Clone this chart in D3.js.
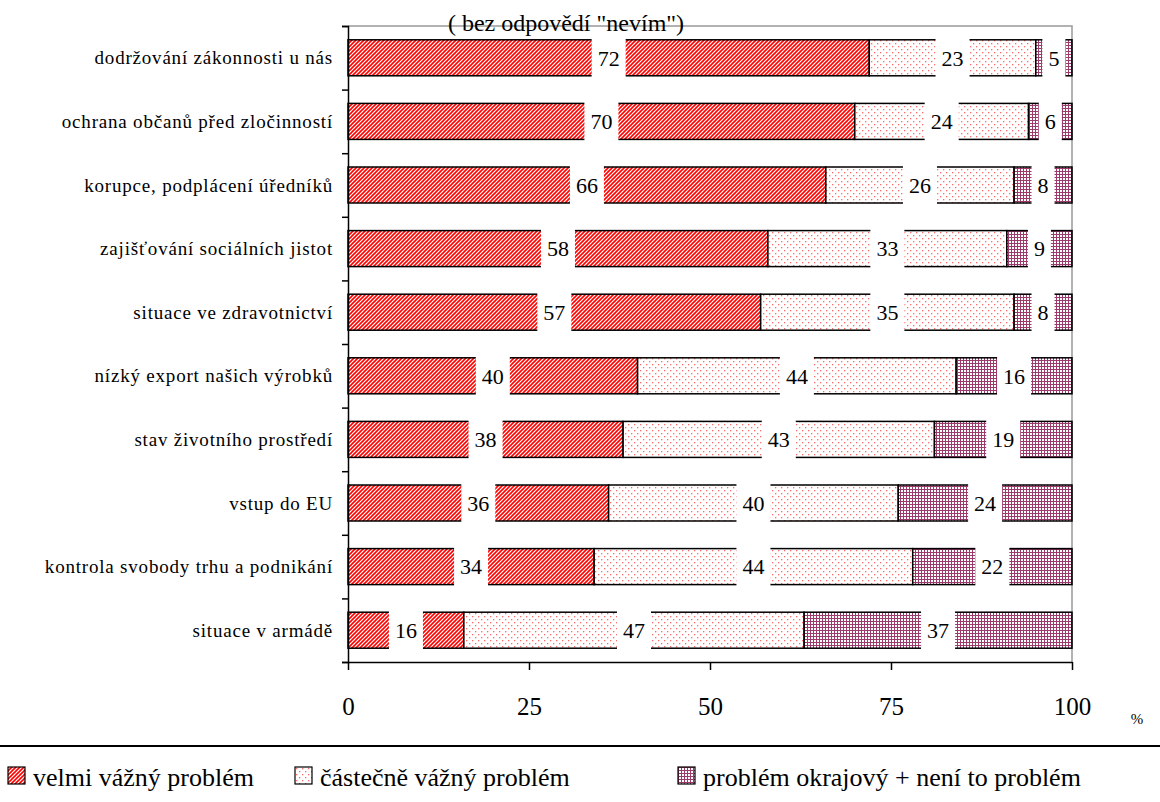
<!DOCTYPE html>
<html>
<head>
<meta charset="utf-8">
<script src="https://cdn.jsdelivr.net/npm/d3@7"></script>
</head>
<body style="margin:0;background:#fff">
<script>
const categories = [
  "dodržování zákonnosti u nás",
  "ochrana občanů před zločinností",
  "korupce, podplácení úředníků",
  "zajišťování sociálních jistot",
  "situace ve zdravotnictví",
  "nízký export našich výrobků",
  "stav životního prostředí",
  "vstup do EU",
  "kontrola svobody trhu a podnikání",
  "situace v armádě"
];
const seriesNames = ["velmi vážný problém", "částečně vážný problém", "problém okrajový + není to problém"];
const verySerious = [72, 70, 66, 58, 57, 40, 38, 36, 34, 16];
const partlySerious = [23, 24, 26, 33, 35, 44, 43, 40, 44, 47];
const marginal = [5, 6, 8, 9, 8, 16, 19, 24, 22, 37];
const xTicks = [0, 25, 50, 75, 100];
const subtitle = '( bez odpovědí "nevím")';

const width = 1160, height = 802;
const plot = { left: 348, right: 1072, top: 26, bottom: 662 };
const font = '"Liberation Serif"';
const K = 2; // text drawn at K x size, then scaled down

const svg = d3.select("body").append("svg")
  .attr("width", width)
  .attr("height", height);

// text helper: big font, scaled down
function label(parent, x, y, size, str, anchor) {
  return parent.append("text")
    .attr("transform", `translate(${x},${y}) scale(${1 / K})`)
    .attr("text-anchor", anchor || "start")
    .style("font-family", font)
    .style("font-size", (size * K) + "px")
    .text(str);
}

// fill patterns
const defs = svg.append("defs");
const hatch = defs.append("pattern").attr("id", "p0")
  .attr("patternUnits", "userSpaceOnUse").attr("width", 4).attr("height", 4);
hatch.append("rect").attr("width", 4).attr("height", 4).attr("fill", "#fff");
hatch.append("path").attr("d", "M-1,1 l2,-2 M0,4 l4,-4 M3,5 l2,-2")
  .attr("stroke", "#ff0000").attr("stroke-width", 1.6);

const dots = defs.append("pattern").attr("id", "p1")
  .attr("patternUnits", "userSpaceOnUse").attr("width", 6).attr("height", 6);
dots.append("rect").attr("width", 6).attr("height", 6).attr("fill", "#fff");
dots.append("rect").attr("x", 1).attr("y", 1).attr("width", 1.3).attr("height", 1.3).attr("fill", "#ff6a6a");
dots.append("rect").attr("x", 4).attr("y", 4).attr("width", 1.3).attr("height", 1.3).attr("fill", "#ff6a6a");

const grid = defs.append("pattern").attr("id", "p2")
  .attr("patternUnits", "userSpaceOnUse").attr("width", 3).attr("height", 3);
grid.append("rect").attr("width", 3).attr("height", 3).attr("fill", "#fff");
grid.append("path").attr("d", "M0.5,0 V3 M0,0.5 H3")
  .attr("stroke", "#9c3a6c").attr("stroke-width", 1);

const fills = ["url(#p0)", "url(#p1)", "url(#p2)"];

const x = d3.scaleLinear().domain([0, 100]).range([plot.left, plot.right]);
const y = d3.scaleBand().domain(categories)
  .range([plot.top, plot.bottom])
  .paddingInner(0.434).paddingOuter(0.217);

const rows = categories.map((c, i) => ({ cat: c, v: [verySerious[i], partlySerious[i], marginal[i]] }));
const stack = d3.stack().keys([0, 1, 2]).value((d, k) => d.v[k]);
const layers = stack(rows);

// plot area frame (grey top / right)
svg.append("path")
  .attr("d", `M${plot.left},${plot.top}H${plot.right}V${plot.bottom}`)
  .attr("fill", "none").attr("stroke", "#999").attr("stroke-width", 1.5);

// bars
const g = svg.append("g");
layers.forEach((layer, k) => {
  g.selectAll(".seg" + k)
    .data(layer)
    .join("rect")
    .attr("class", "seg" + k)
    .attr("x", d => x(d[0]))
    .attr("y", d => y(d.data.cat))
    .attr("width", d => x(d[1]) - x(d[0]))
    .attr("height", y.bandwidth())
    .attr("fill", fills[k])
    .attr("stroke", "#000")
    .attr("stroke-width", 1.5);
});

// value labels on white boxes (digits are 0.5em wide)
const labels = layers.flatMap((layer, k) => layer.map(d => ({
  v: d.data.v[k],
  cx: x((d[0] + d[1]) / 2),
  cy: y(d.data.cat) + y.bandwidth() / 2
})));
g.selectAll(".lblbox")
  .data(labels)
  .join("rect")
  .attr("class", "lblbox")
  .attr("x", d => d.cx - (String(d.v).length * 11 + 12) / 2)
  .attr("y", d => d.cy - y.bandwidth() / 2 - 3)
  .attr("width", d => String(d.v).length * 11 + 12)
  .attr("height", y.bandwidth() + 6)
  .attr("fill", "#fff");
labels.forEach(d => label(g, d.cx, d.cy, 22, d.v, "middle").attr("dy", "0.35em"));

// y axis with ticks between categories
const yIdx = d3.scaleLinear().domain([0, categories.length]).range([plot.top, plot.bottom]);
svg.append("g")
  .attr("transform", `translate(${plot.left},0)`)
  .call(d3.axisLeft(yIdx).ticks(categories.length).tickSize(6).tickSizeOuter(6).tickFormat(""))
  .call(a => a.selectAll("path,line").attr("stroke", "#000").attr("stroke-width", 1.5));

const catG = svg.append("g");
categories.forEach(c => {
  label(catG, plot.left - 15, y(c) + y.bandwidth() / 2, 19, c, "end")
    .attr("dy", "0.35em")
    .style("letter-spacing", (0.8 * K) + "px");
});

// x axis
svg.append("g")
  .attr("transform", `translate(0,${plot.bottom})`)
  .call(d3.axisBottom(x).tickValues(xTicks).tickSize(8).tickSizeOuter(0).tickPadding(27))
  .call(a => a.selectAll("path,line").attr("stroke", "#000").attr("stroke-width", 1.5))
  .call(a => a.selectAll("text")
    .attr("fill", "#000")
    .attr("y", (8 + 27) * K)
    .attr("transform", `scale(${1 / K})`)
    .attr("font-family", null)
    .style("font-family", font)
    .style("font-size", (25 * K) + "px"));

label(svg, 1137, 724, 15, "%", "middle");

// subtitle
label(svg, 566, 31, 24, subtitle, "middle");

// legend
svg.append("line")
  .attr("x1", 0).attr("x2", width)
  .attr("y1", 746).attr("y2", 746)
  .attr("stroke", "#000").attr("stroke-width", 2);

const legendX = [8, 295, 678];
seriesNames.forEach((name, i) => {
  const lg = svg.append("g").attr("transform", `translate(${legendX[i]},767)`);
  lg.append("rect")
    .attr("width", 17).attr("height", 17)
    .attr("fill", fills[i])
    .attr("stroke", "#000").attr("stroke-width", 1.2);
  label(lg, 25, 19, 26, name);
});
</script>
</body>
</html>
